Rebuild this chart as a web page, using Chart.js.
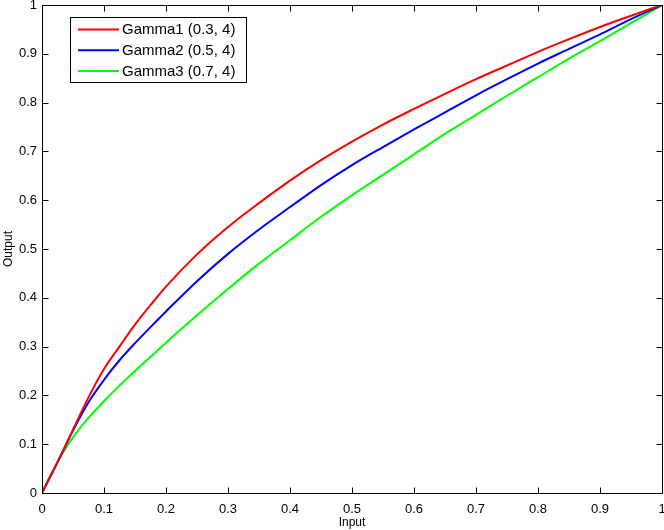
<!DOCTYPE html>
<html>
<head>
<meta charset="utf-8">
<script src="https://cdn.jsdelivr.net/npm/chart.js@4/dist/chart.umd.min.js"></script>
<style>
html,body{margin:0;padding:0;background:#fff;}
#wrap{width:664px;height:530px;}
</style>
</head>
<body>
<div id="wrap"><canvas id="c" width="664" height="530"></canvas></div>
<script>
// ---- data ----
const inputs = [0, 0.01, 0.02, 0.03, 0.05, 0.075, 0.1, 0.125, 0.15, 0.175, 0.2, 0.25, 0.3, 0.35, 0.4, 0.45, 0.5, 0.55, 0.6, 0.65, 0.7, 0.75, 0.8, 0.85, 0.9, 0.95, 1];
const gamma1 = [0, 0.025, 0.05, 0.076, 0.130, 0.196, 0.254, 0.300, 0.345, 0.385, 0.423, 0.489, 0.545, 0.594, 0.640, 0.682, 0.720, 0.755, 0.787, 0.818, 0.848, 0.876, 0.904, 0.930, 0.955, 0.978, 1];
const gamma2 = [0, 0.025, 0.05, 0.076, 0.128, 0.186, 0.232, 0.272, 0.307, 0.340, 0.372, 0.434, 0.490, 0.540, 0.586, 0.631, 0.672, 0.709, 0.745, 0.780, 0.815, 0.848, 0.880, 0.910, 0.940, 0.971, 1];
const gamma3 = [0, 0.027, 0.052, 0.075, 0.114, 0.154, 0.188, 0.220, 0.250, 0.279, 0.308, 0.364, 0.418, 0.470, 0.518, 0.566, 0.610, 0.652, 0.694, 0.736, 0.775, 0.814, 0.852, 0.890, 0.926, 0.963, 1];
const seriesLabels = ['Gamma1 (0.3, 4)', 'Gamma2 (0.5, 4)', 'Gamma3 (0.7, 4)'];
const seriesColors = ['#ff0000', '#0000ff', '#00ff00'];
const xTitle = 'Input';
const yTitle = 'Output';

const toPoints = ys => inputs.map((x, i) => ({x: x, y: ys[i]}));
const fmt = v => String(+(+v).toFixed(1));

const framePlugin = {
  id: 'frame',
  afterDatasetsDraw(chart) {
    const {ctx, chartArea: a, scales: {x, y}} = chart;
    const L = Math.round(a.left) + 0.5, R = Math.round(a.right) + 0.5;
    const T = Math.round(a.top) + 0.5, B = Math.round(a.bottom) + 0.5;
    ctx.save();
    ctx.strokeStyle = '#000';
    ctx.lineWidth = 1;
    ctx.beginPath();
    const tl = 6;
    x.ticks.forEach(t => {
      const px = Math.round(x.getPixelForValue(t.value)) + 0.5;
      ctx.moveTo(px, B); ctx.lineTo(px, B - tl);
      ctx.moveTo(px, T); ctx.lineTo(px, T + tl);
    });
    y.ticks.forEach(t => {
      const py = Math.round(y.getPixelForValue(t.value)) + 0.5;
      ctx.moveTo(L, py); ctx.lineTo(L + tl, py);
      ctx.moveTo(R, py); ctx.lineTo(R - tl, py);
    });
    ctx.stroke();
    ctx.strokeRect(L, T, R - L, B - T);

    // legend box inside the axes
    const lx = 70.5, ly = 17.5, lw = 176, lh = 65;
    ctx.fillStyle = '#fff';
    ctx.fillRect(lx, ly, lw, lh);
    ctx.strokeRect(lx, ly, lw, lh);
    ctx.font = '15px "Liberation Sans", Arial, sans-serif';
    ctx.textBaseline = 'middle';
    ctx.textAlign = 'left';
    chart.data.datasets.forEach((ds, i) => {
      const cy = 29.5 + i * 20.7;
      ctx.strokeStyle = ds.borderColor;
      ctx.lineWidth = 2;
      ctx.beginPath();
      ctx.moveTo(78, cy); ctx.lineTo(119, cy);
      ctx.stroke();
      ctx.fillStyle = '#000';
      ctx.fillText(ds.label, 122, cy + 0.5);
    });
    ctx.restore();
  }
};

new Chart(document.getElementById('c'), {
  type: 'line',
  data: {
    datasets: [gamma1, gamma2, gamma3].map((ys, i) => ({
      label: seriesLabels[i],
      data: toPoints(ys),
      borderColor: seriesColors[i],
      backgroundColor: seriesColors[i],
      borderWidth: 2,
      pointRadius: 0,
      fill: false,
      cubicInterpolationMode: 'monotone'
    }))
  },
  options: {
    responsive: false,
    animation: false,
    devicePixelRatio: 1,
    layout: {padding: {top: 5, right: 2, left: 0, bottom: 0}},
    plugins: {legend: {display: false}, tooltip: {enabled: false}},
    scales: {
      x: {
        type: 'linear', min: 0, max: 1,
        grid: {display: false, drawTicks: false},
        border: {display: false},
        ticks: {
          stepSize: 0.1, autoSkip: false, maxRotation: 0, padding: 9,
          color: '#000', font: {family: '"Liberation Sans", Arial', size: 13},
          callback: v => fmt(v)
        },
        title: {display: true, text: xTitle, color: '#000',
          font: {family: '"Liberation Sans", Arial', size: 12}, padding: {top: 0, bottom: 0}},
        afterFit: s => { s.height = 37; s.paddingLeft = 0; s.paddingRight = 0; }
      },
      y: {
        type: 'linear', min: 0, max: 1,
        grid: {display: false, drawTicks: false},
        border: {display: false},
        ticks: {
          stepSize: 0.1, autoSkip: false, padding: 5,
          color: '#000', font: {family: '"Liberation Sans", Arial', size: 13},
          callback: v => fmt(v)
        },
        title: {display: true, text: yTitle, color: '#000',
          font: {family: '"Liberation Sans", Arial', size: 12}, padding: {top: 1, bottom: 0}},
        afterFit: s => { s.width = 42; s.paddingTop = 0; s.paddingBottom = 0; }
      }
    }
  },
  plugins: [framePlugin]
});
</script>
</body>
</html>
